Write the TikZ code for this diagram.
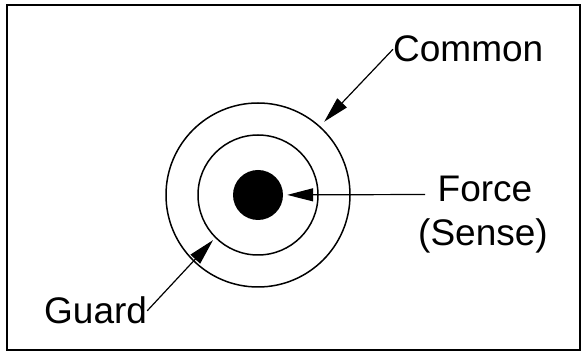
\documentclass[tikz,border=0pt]{standalone}
\usepackage{fontspec}
\setmainfont{Liberation Sans}
\usetikzlibrary{arrows.meta}

\begin{document}
\begin{tikzpicture}[x=1pt,y=-1pt,>={Triangle[length=26pt,width=13pt]},
    ring/.style={circle,draw,line width=1.5pt,inner sep=0pt},
    lbl/.style={inner sep=0pt,font=\fontsize{37}{44}\selectfont},
    pointer/.style={->,line width=1.2pt}]
    \useasboundingbox (0,0) rectangle (582,352);
    \draw[line width=2pt] (7,5) rectangle (580,350.5);

    % the three conductors
    \node[ring,minimum size=184pt] (common) at (258,195) {};
    \node[ring,minimum size=120pt] (guard) at (258,195) {};
    \node[circle,fill=black,inner sep=0pt,minimum size=50pt] (force) at (258,195) {};

    % labels
    \node[lbl,anchor=base west] (commonlbl) at (393,62) {Common};
    \node[lbl,anchor=base] (forcelbl) at (485,202) {Force};
    \node[lbl,anchor=base] (senselbl) at (483,246) {(Sense)};
    \node[lbl,anchor=base west] (guardlbl) at (44,324) {Guard};
    \coordinate (forceend) at (425,194.5);

    \path[pointer]
    (commonlbl.west) edge[shorten >=6pt] (common.48)
    (forceend) edge[shorten >=4pt] (force)
    (guardlbl.east) edge[shorten >=3pt] (guard.225);
\end{tikzpicture}
\end{document}
